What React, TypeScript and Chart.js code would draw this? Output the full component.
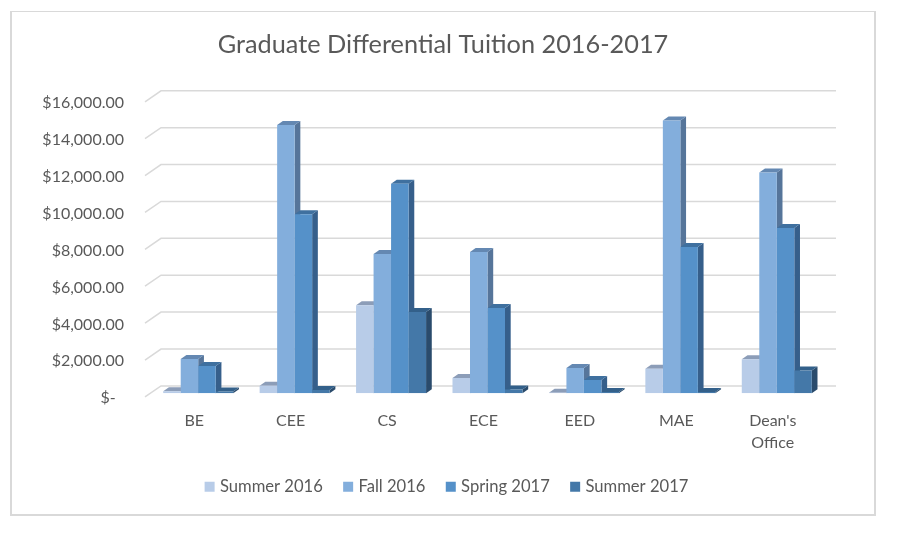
import { useEffect, useRef } from 'react';
import Chart from 'chart.js/auto';

const categories = ['BE', 'CEE', 'CS', 'ECE', 'EED', 'MAE', ["Dean's", 'Office']];
const summer2016 = [100, 410, 4770, 830, 20, 1320, 1840];
const fall2016 = [1860, 14540, 7550, 7660, 1370, 14790, 11970];
const spring2017 = [1480, 9700, 11350, 4620, 720, 7930, 8960];
const summer2017 = [90, 180, 4400, 200, 70, 60, 1225];

const FONT = 'Lato, "Open Sans", sans-serif';
const TEXT = '#595959';
const GRID = '#d9d9d9';

// front, top and side face of each series
const faces = [
	{ front: '#b8cce8', top: '#8c9db8', side: '#8296b0' },
	{ front: '#83aedc', top: '#6488b2', side: '#56759a' },
	{ front: '#5591c9', top: '#3f709f', side: '#365f8b' },
	{ front: '#4478a8', top: '#33608a', side: '#2a4b6c' },
];

const fmtTick = (v: number | string) => {
	if (Number(v) === 0) return '$-  ';
	return '$' + Number(v).toLocaleString('en-US', { minimumFractionDigits: 2 });
};

// Excel style 3D look: back wall gridlines and bar depth
const depthPlugin = {
	id: 'depth',
	afterLayout(chart: any) {
		// title and legend sit off the plot centre in the original
		chart.titleBlock.left += 30.5;
		chart.titleBlock.right += 30.5;
		chart.legend.left += 35.5;
		chart.legend.right += 35.5;
		chart.legend.top -= 8;
	},
	beforeDatasetsDraw(chart: any) {
		const { ctx, chartArea, scales } = chart;
		ctx.save();
		ctx.strokeStyle = GRID;
		ctx.lineWidth = 1.5;
		scales.y.ticks.forEach((t: any) => {
			const y = scales.y.getPixelForValue(t.value);
			ctx.beginPath();
			ctx.moveTo(chartArea.left - 5, y + 3.7);
			ctx.lineTo(chartArea.left + 11, y - 7.3);
			ctx.lineTo(chartArea.right + 11, y - 7.3);
			ctx.stroke();
		});
		const dx = 5.7;
		const dy = 4;
		chart.data.datasets.forEach((_: any, i: number) => {
			chart.getDatasetMeta(i).data.forEach((bar: any) => {
				const p = bar.getProps(['x', 'y', 'base', 'width']);
				const l = p.x - p.width / 2;
				const r = p.x + p.width / 2;
				ctx.fillStyle = faces[i].side;
				ctx.beginPath();
				ctx.moveTo(r, p.base);
				ctx.lineTo(r + dx, p.base - dy);
				ctx.lineTo(r + dx, p.y - dy);
				ctx.lineTo(r, p.y);
				ctx.closePath();
				ctx.fill();
				ctx.fillStyle = faces[i].top;
				ctx.beginPath();
				ctx.moveTo(l, p.y);
				ctx.lineTo(l + dx, p.y - dy);
				ctx.lineTo(r + dx, p.y - dy);
				ctx.lineTo(r, p.y);
				ctx.closePath();
				ctx.fill();
			});
		});
		ctx.restore();
	},
};

export default function App() {
	const canvasRef = useRef<HTMLCanvasElement>(null);

	useEffect(() => {
		if (!canvasRef.current) return;
		const chart = new Chart(canvasRef.current, {
			type: 'bar',
			data: {
				labels: categories,
				datasets: [
					{ label: 'Summer 2016', data: summer2016, backgroundColor: faces[0].front },
					{ label: 'Fall 2016', data: fall2016, backgroundColor: faces[1].front },
					{ label: 'Spring 2017', data: spring2017, backgroundColor: faces[2].front },
					{ label: 'Summer 2017', data: summer2017, backgroundColor: faces[3].front },
				],
			},
			options: {
				responsive: false,
				animation: false,
				datasets: { bar: { barPercentage: 1, categoryPercentage: 0.726 } },
				layout: { padding: { left: 0, right: 77, top: 0, bottom: 22.9 } },
				plugins: {
					title: {
						display: true,
						text: 'Graduate Differential Tuition 2016-2017',
						color: TEXT,
						font: { family: FONT, size: 25.3, weight: 'normal' },
						padding: { top: 29.8, bottom: 37.9 },
					},
					legend: {
						position: 'bottom',
						labels: {
							color: TEXT,
							font: { family: FONT, size: 16.6 },
							boxWidth: 4,
							boxHeight: 4,
							padding: 23.3,
							generateLabels: (c: any) =>
								c.data.datasets.map((d: any, i: number) => ({
									text: d.label,
									fillStyle: d.backgroundColor,
									strokeStyle: d.backgroundColor,
									lineWidth: 6,
									fontColor: TEXT,
									datasetIndex: i,
								})),
						},
					},
					tooltip: { enabled: false },
				},
				scales: {
					x: {
						grid: { display: false },
						border: { display: false },
						afterFit: (s: any) => {
							s.height = 70;
						},
						ticks: {
							color: TEXT,
							font: { family: FONT, size: 16, lineHeight: 1.38 },
							padding: 9,
							labelOffset: -4,
							maxRotation: 0,
							autoSkip: false,
						},
					},
					y: {
						min: 0,
						max: 16000,
						grid: { display: false },
						border: { display: false },
						afterFit: (s: any) => {
							s.width = 150;
						},
						ticks: {
							stepSize: 2000,
							color: TEXT,
							font: { family: FONT, size: 16 },
							padding: 18,
							labelOffset: 5,
							callback: fmtTick,
						},
					},
				},
			},
			plugins: [depthPlugin],
		} as any);
		return () => chart.destroy();
	}, []);

	return (
		<div style={{ position: 'fixed', left: 0, top: 0, width: 902, height: 536, background: '#fff' }}>
			<div
				style={{
					position: 'absolute',
					boxSizing: 'border-box',
					left: 10,
					top: 11,
					width: 866,
					height: 505,
					borderStyle: 'solid',
					borderColor: '#d9d9d9',
					borderWidth: '1px 2px 2px 2px',
				}}
			></div>
			<canvas ref={canvasRef} width={902} height={536} style={{ position: 'absolute', left: 0, top: 0 }}></canvas>
		</div>
	);
}
